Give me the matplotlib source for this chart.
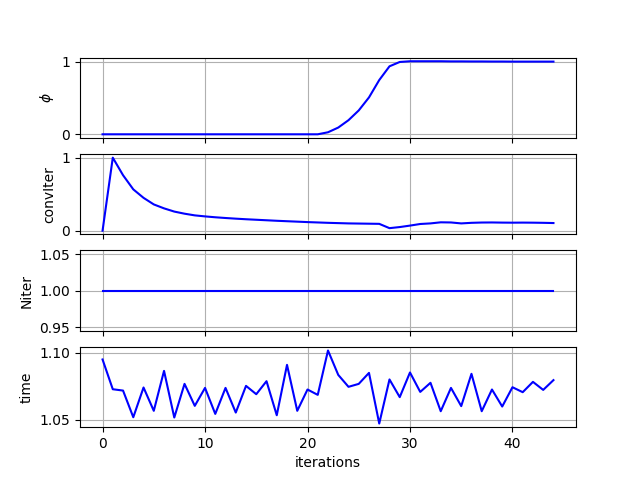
import numpy as np
import matplotlib
matplotlib.use("Agg")
import matplotlib.pyplot as plt

iterations = np.arange(45)

phi = [0.0] * 22 + [0.028, 0.093, 0.195, 0.33, 0.51, 0.75, 0.94, 1.0,
                    1.01, 1.01, 1.01, 1.01, 1.008, 1.008, 1.007, 1.007,
                    1.006, 1.006, 1.005, 1.005, 1.005, 1.005, 1.005]

conv_iter = [0.0, 1.0, 0.76, 0.566, 0.45, 0.36, 0.306, 0.262, 0.233, 0.21,
             0.196, 0.184, 0.174, 0.165, 0.157, 0.15, 0.143, 0.136, 0.13,
             0.124, 0.118, 0.113, 0.108, 0.104, 0.100, 0.098, 0.096, 0.094,
             0.035, 0.05, 0.07, 0.092, 0.10, 0.115, 0.113, 0.10, 0.108,
             0.112, 0.113, 0.111, 0.11, 0.111, 0.11, 0.108, 0.105]

niter = [1.0] * 45

time = [1.0948, 1.0726, 1.0716, 1.0517, 1.0739, 1.0565, 1.0863, 1.0515,
        1.0766, 1.0602, 1.0736, 1.0542, 1.0736, 1.0552, 1.0751, 1.0689,
        1.0786, 1.0532, 1.0908, 1.0565, 1.0724, 1.0684, 1.1015, 1.0833,
        1.0744, 1.0766, 1.0848, 1.0470, 1.0799, 1.0667, 1.0851, 1.0706,
        1.0774, 1.0562, 1.0736, 1.0600, 1.0841, 1.0562, 1.0724, 1.0597,
        1.0741, 1.0704, 1.0781, 1.0721, 1.0794]

fig, axs = plt.subplots(4, 1, sharex=True, figsize=(6.4, 4.8), dpi=100)

axs[0].plot(iterations, phi, 'b')
axs[0].set_ylabel(r'$\phi$')
axs[0].set_yticks([0, 1])

axs[1].plot(iterations, conv_iter, 'b')
axs[1].set_ylabel('convIter')
axs[1].set_yticks([0, 1])

axs[2].plot(iterations, niter, 'b')
axs[2].set_ylabel('Niter')

axs[3].plot(iterations, time, 'b')
axs[3].set_ylabel('time')
axs[3].set_yticks([1.05, 1.10])
axs[3].set_xlabel('iterations')

for ax in axs:
    ax.grid(True)

plt.savefig('out.png')
